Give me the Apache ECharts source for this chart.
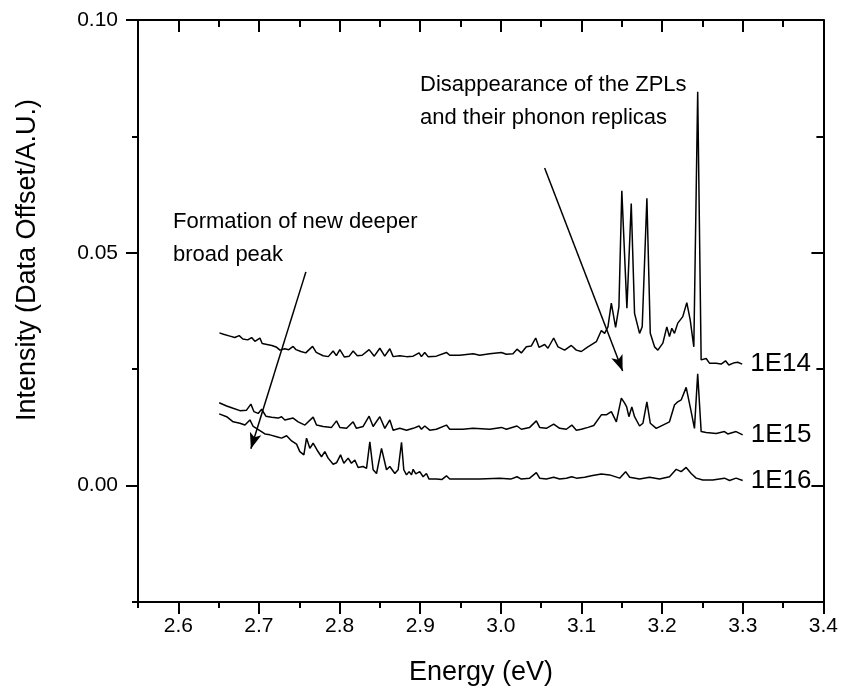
<!DOCTYPE html>
<html><head><meta charset="utf-8">
<script src="https://cdn.jsdelivr.net/npm/echarts@6/dist/echarts.min.js"></script>
<style>html,body{margin:0;padding:0;background:#fff}#c{width:841px;height:690px}</style>
</head><body><div id="c"></div>
<script>
// ---- data ----
const energy1E14 = [2.651,2.656,2.664,2.670,2.6755,2.680,2.686,2.6909,2.695,2.7012,2.704,2.710,2.716,2.722,2.726,2.732,2.737,2.7424,2.746,2.752,2.758,2.7665,2.771,2.7796,2.786,2.792,2.796,2.8003,2.806,2.812,2.8168,2.822,2.828,2.8366,2.843,2.8499,2.856,2.8623,2.8664,2.8747,2.883,2.8912,2.8986,2.9015,2.9056,2.9097,2.920,2.9325,2.9366,2.949,2.9655,2.9738,2.9862,3.0007,3.0068,3.015,3.020,3.0254,3.0316,3.0378,3.0432,3.0473,3.0543,3.0584,3.0655,3.0709,3.0791,3.0874,3.0936,3.0998,3.107,3.1184,3.1246,3.1287,3.1328,3.137,3.1423,3.1464,3.150,3.1563,3.1617,3.1658,3.168,3.172,3.1753,3.1811,3.1853,3.1906,3.1947,3.2009,3.2058,3.2091,3.212,3.2153,3.2194,3.2256,3.2306,3.2348,3.2393,3.2441,3.2484,3.2546,3.2587,3.267,3.2732,3.2786,3.2827,3.2897,3.2938,3.2993];
const intensity1E14 = [0.0328,0.0325,0.0321,0.0318,0.0322,0.0315,0.0313,0.0318,0.0310,0.0317,0.0305,0.0303,0.0301,0.0297,0.0291,0.0294,0.0292,0.0299,0.0292,0.0288,0.0285,0.0299,0.0286,0.0279,0.0277,0.0289,0.0279,0.0292,0.0276,0.0278,0.0289,0.0279,0.0280,0.0292,0.0278,0.0295,0.0278,0.0294,0.0277,0.0279,0.0277,0.0278,0.0285,0.0277,0.0286,0.0277,0.0278,0.0286,0.0280,0.0280,0.0283,0.0280,0.0283,0.0286,0.0282,0.0283,0.0293,0.0285,0.0298,0.0300,0.0317,0.0297,0.0303,0.0295,0.0317,0.0298,0.0291,0.0301,0.0291,0.0288,0.0297,0.0309,0.0333,0.0327,0.0341,0.0392,0.0340,0.0384,0.0633,0.0381,0.0606,0.0370,0.0373,0.0327,0.0341,0.0617,0.0327,0.0298,0.0291,0.0306,0.0341,0.0320,0.0338,0.0327,0.0349,0.0363,0.0393,0.0356,0.0298,0.0846,0.0270,0.0273,0.0263,0.0263,0.0261,0.0268,0.0259,0.0264,0.0265,0.0261];

const energy1E15 = [2.6507,2.6599,2.668,2.6764,2.6846,2.690,2.6937,2.699,2.7033,2.7086,2.7157,2.7239,2.728,2.7321,2.7424,2.7486,2.757,2.7672,2.7714,2.7796,2.790,2.7962,2.8003,2.8086,2.8168,2.8209,2.8292,2.8366,2.8416,2.8499,2.8561,2.8623,2.8664,2.8747,2.883,2.8912,2.8986,2.9015,2.9056,2.9118,2.920,2.9325,2.9366,2.953,2.9655,2.9862,3.0007,3.0068,3.020,3.0254,3.0357,3.044,3.0481,3.0564,3.0655,3.0729,3.0812,3.088,3.0936,3.0998,3.1081,3.1152,3.1246,3.1307,3.137,3.1432,3.1494,3.1535,3.156,3.1588,3.1624,3.1658,3.172,3.1762,3.1811,3.1853,3.1927,3.2009,3.2091,3.2153,3.2194,3.2236,3.2298,3.236,3.2401,3.2441,3.2484,3.2546,3.267,3.2773,3.2814,3.2917,3.2999];
const intensity1E15 = [0.0178,0.0171,0.0166,0.0161,0.0162,0.0175,0.0159,0.0155,0.0164,0.0149,0.0147,0.0145,0.0148,0.0141,0.0145,0.0137,0.0130,0.0147,0.0130,0.0127,0.0125,0.0139,0.0125,0.0123,0.0137,0.0123,0.0127,0.0149,0.0127,0.0148,0.0123,0.0141,0.0119,0.0123,0.0119,0.0123,0.0128,0.0121,0.0128,0.0119,0.0121,0.0130,0.0121,0.0121,0.0123,0.0121,0.0125,0.0121,0.0128,0.0121,0.0125,0.0139,0.0125,0.0123,0.0132,0.0123,0.0121,0.0130,0.0119,0.0121,0.0125,0.0129,0.0152,0.0152,0.0159,0.0137,0.0188,0.0177,0.0169,0.0148,0.0169,0.0148,0.0128,0.0134,0.0180,0.0134,0.0123,0.0130,0.0137,0.0173,0.0180,0.0184,0.0211,0.0159,0.0123,0.0240,0.0116,0.0114,0.0112,0.0116,0.0111,0.0116,0.0109];

const energy1E16 = [2.6507,2.6599,2.668,2.6764,2.6826,2.6888,2.6929,2.7012,2.7074,2.7136,2.7219,2.728,2.7343,2.7405,2.7466,2.7507,2.7557,2.759,2.7631,2.7672,2.7722,2.7776,2.7817,2.7858,2.792,2.7962,2.8012,2.8053,2.8106,2.8147,2.8189,2.823,2.8292,2.8334,2.8375,2.8416,2.8458,2.852,2.8582,2.8623,2.8685,2.8726,2.8768,2.8796,2.883,2.8862,2.8892,2.8912,2.8945,2.8994,2.9036,2.9077,2.9109,2.920,2.9267,2.9325,2.9366,2.953,2.9738,2.9986,3.0122,3.020,3.0254,3.0357,3.044,3.0481,3.0564,3.0655,3.0729,3.0812,3.088,3.0936,3.1039,3.1122,3.1246,3.1349,3.1473,3.1547,3.1597,3.172,3.1844,3.1968,3.2092,3.2175,3.2236,3.2298,3.236,3.2422,3.2504,3.2628,3.2773,3.2836,3.2917,3.2999];
const intensity1E16 = [0.0154,0.0148,0.0137,0.0134,0.0130,0.0141,0.0127,0.0118,0.0111,0.0109,0.0105,0.0102,0.0107,0.0096,0.0089,0.0073,0.0066,0.0102,0.0080,0.0091,0.0076,0.0062,0.0073,0.0059,0.0046,0.0049,0.0066,0.0048,0.0059,0.0048,0.0055,0.0039,0.0041,0.0037,0.0094,0.0034,0.0026,0.0080,0.0034,0.0041,0.0026,0.0034,0.0093,0.0034,0.0023,0.0030,0.0023,0.0035,0.0025,0.0030,0.0019,0.0026,0.0014,0.0014,0.0013,0.0021,0.0014,0.0014,0.0014,0.0016,0.0014,0.0019,0.0014,0.0016,0.0028,0.0016,0.0014,0.0018,0.0014,0.0016,0.0019,0.0016,0.0018,0.0021,0.0025,0.0023,0.0016,0.0030,0.0018,0.0014,0.0018,0.0014,0.0019,0.0035,0.0030,0.0039,0.0026,0.0016,0.0012,0.0012,0.0016,0.0011,0.0016,0.0011];

const seriesNames = ['1E14', '1E15', '1E16'];
const xMajorTicks = [2.6, 2.7, 2.8, 2.9, 3.0, 3.1, 3.2, 3.3, 3.4];
const xMinorTicks = [2.55, 2.65, 2.75, 2.85, 2.95, 3.05, 3.15, 3.25, 3.35];
const yMajorTicks = [0.00, 0.05, 0.10];
const yMinorTicks = [-0.025, 0.025, 0.075];
const arrowZPL = [[3.0543, 0.0682], [3.151, 0.0246]];
const arrowBroad = [[2.7582, 0.0459], [2.690, 0.0079]];

// ---- chart ----
const FONT = 'Liberation Sans, Arial, sans-serif';
const X_MIN = 2.55, X_MAX = 3.4, Y_MIN = -0.025, Y_MAX = 0.10;
const zip = (xs, ys) => xs.map((x, i) => [x, ys[i]]);
const seriesData = [zip(energy1E14, intensity1E14), zip(energy1E15, intensity1E15), zip(energy1E16, intensity1E16)];

function xAx(pos, ticks, len, inside, showLine, labels) {
  return {
    type: 'value', position: pos, min: X_MIN, max: X_MAX,
    axisLine: { show: showLine, onZero: false, lineStyle: { color: '#000', width: 2 } },
    axisTick: { show: true, inside: inside, length: len, customValues: ticks, lineStyle: { color: '#000', width: 2 } },
    axisLabel: labels ? { show: true, customValues: ticks, formatter: v => v.toFixed(1), color: '#000', fontFamily: FONT, fontSize: 21, margin: 14 } : { show: false },
    splitLine: { show: false }
  };
}
function yAx(pos, ticks, len, inside, showLine, labels) {
  return {
    type: 'value', position: pos, min: Y_MIN, max: Y_MAX,
    axisLine: { show: showLine, onZero: false, lineStyle: { color: '#000', width: 2 } },
    axisTick: { show: true, inside: inside, length: len, customValues: ticks, lineStyle: { color: '#000', width: 2 } },
    axisLabel: labels ? { show: true, customValues: ticks, formatter: v => v.toFixed(2), color: '#000', fontFamily: FONT, fontSize: 21, margin: 20 } : { show: false },
    splitLine: { show: false }
  };
}

const chart = echarts.init(document.getElementById('c'), null, { renderer: 'canvas' });
const arrowLine = (pts) => [{ coord: pts[0], symbol: 'none' }, { coord: pts[1], symbol: 'arrow' }];

chart.setOption({
  animation: false,
  backgroundColor: '#fff',
  grid: { left: 138, right: 17, top: 20, bottom: 88, containLabel: false },
  xAxis: [
    xAx('bottom', xMajorTicks, 12, false, true, true),
    xAx('bottom', xMinorTicks, 6, false, false, false),
    xAx('top', xMajorTicks, 12, true, true, false),
    xAx('top', xMinorTicks, 7, true, false, false)
  ],
  yAxis: [
    yAx('left', yMajorTicks, 12, false, true, true),
    yAx('left', yMinorTicks, 6, false, false, false),
    yAx('right', yMajorTicks, 12, true, true, false),
    yAx('right', yMinorTicks, 7, true, false, false)
  ],
  series: seriesNames.map((name, i) => ({
    name: name, type: 'line', data: seriesData[i], xAxisIndex: 0, yAxisIndex: 0,
    showSymbol: false, symbol: 'none', smooth: false,
    lineStyle: { color: '#000', width: 1.5 },
    endLabel: { show: true, formatter: '{a}', color: '#000', fontFamily: FONT, fontSize: 26, distance: 8 },
    markLine: i === 0 ? {
      silent: true, symbolSize: [9, 16],
      lineStyle: { color: '#000', width: 1.5, type: 'solid' },
      label: { show: false },
      data: [arrowLine(arrowZPL), arrowLine(arrowBroad)]
    } : undefined
  })),
  graphic: [
    { type: 'text', left: 420, top: 68, style: { text: 'Disappearance of the ZPLs\nand their phonon replicas', font: '22px ' + FONT, fill: '#000', lineHeight: 33 } },
    { type: 'text', left: 173, top: 205, style: { text: 'Formation of new deeper\nbroad peak', font: '22px ' + FONT, fill: '#000', lineHeight: 33 } },
    { type: 'text', x: 481, y: 673, style: { text: 'Energy (eV)', font: '27px ' + FONT, fill: '#000', align: 'center', verticalAlign: 'middle' } },
    { type: 'text', x: 28, y: 260, rotation: Math.PI / 2, style: { text: 'Intensity (Data Offset/A.U.)', font: '27px ' + FONT, fill: '#000', align: 'center', verticalAlign: 'middle' } }
  ]
});
</script></body></html>
